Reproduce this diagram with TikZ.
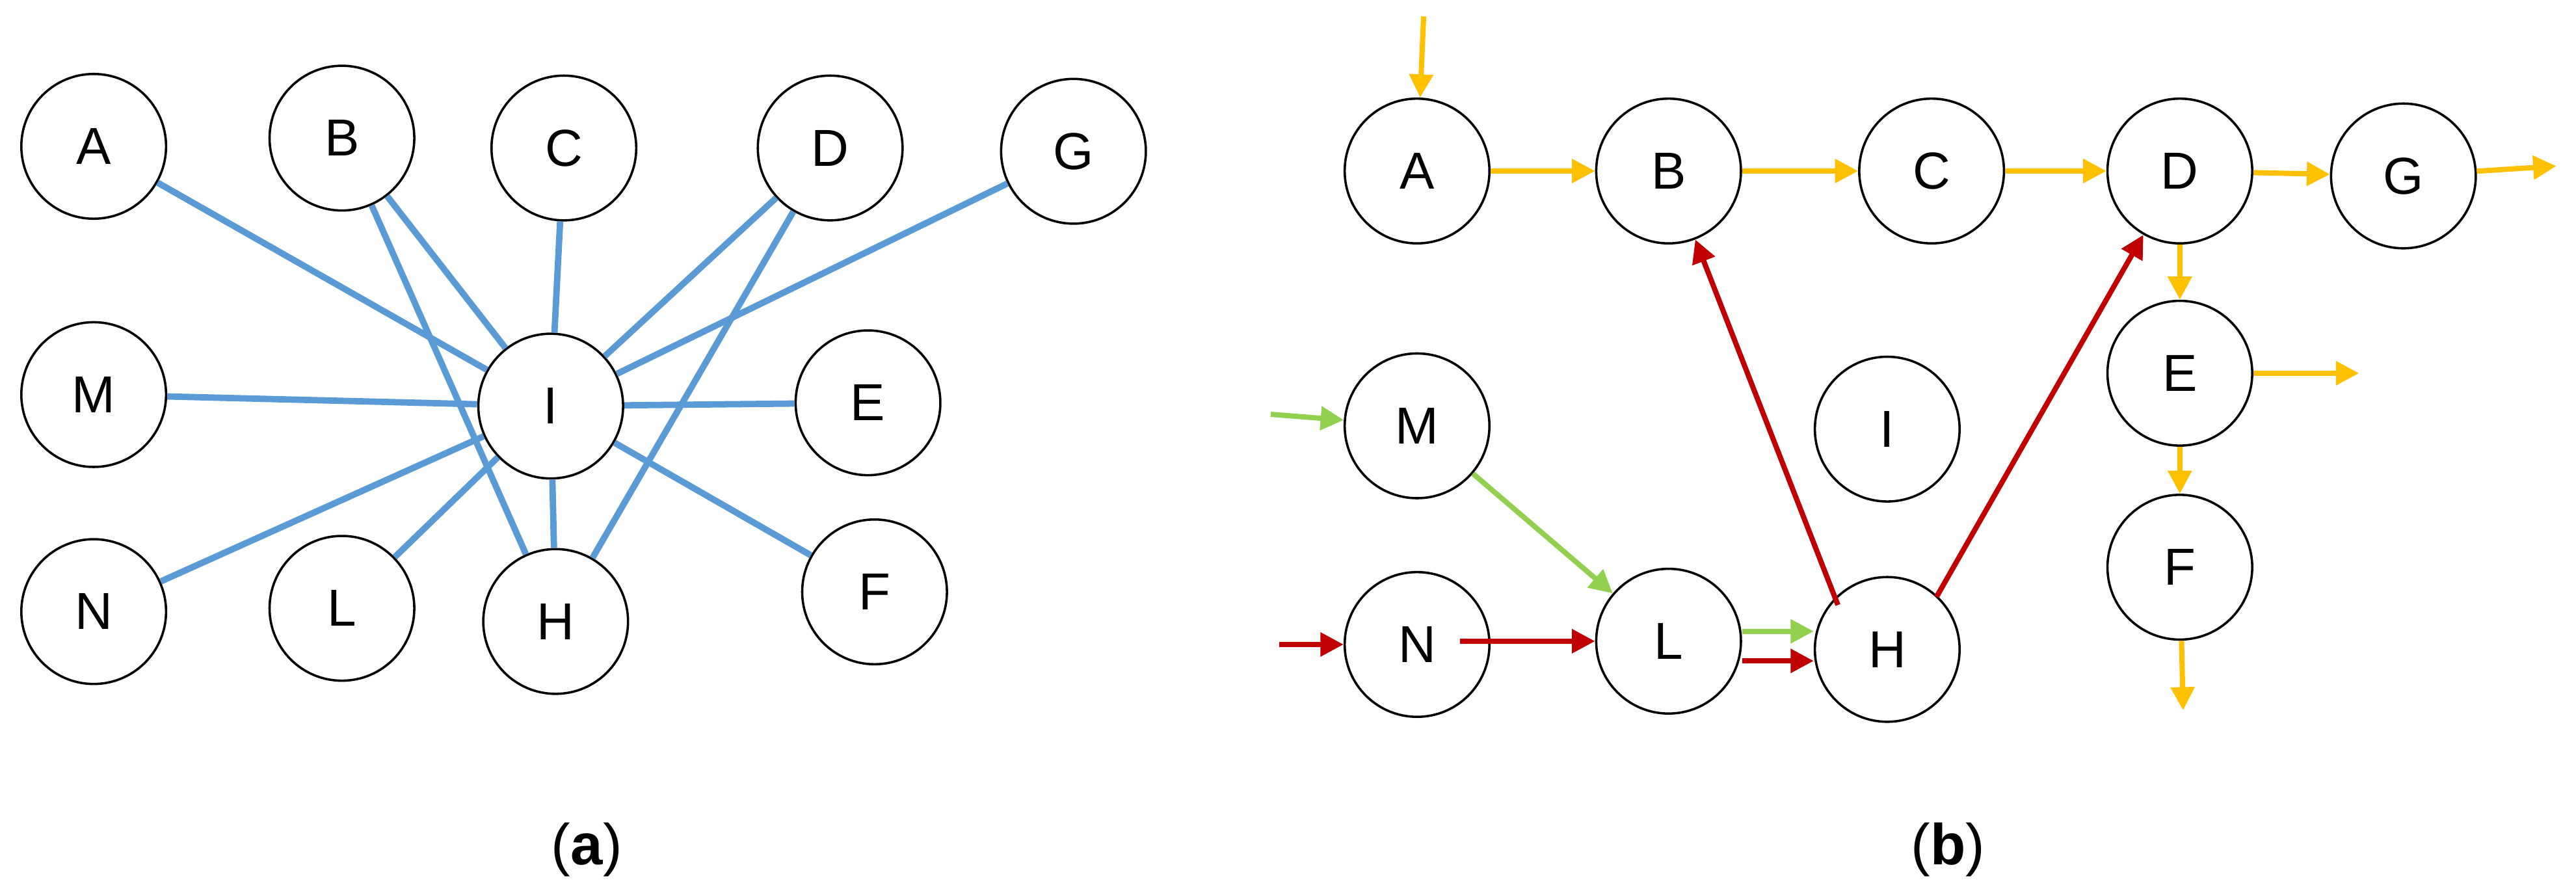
\documentclass[tikz,border=0pt]{standalone}
\usepackage{fontspec}
\setmainfont{Liberation Sans}
\usetikzlibrary{arrows.meta, positioning, calc}
\definecolor{edgeblue}{RGB}{91,155,213}
\definecolor{flowyellow}{RGB}{255,192,0}
\definecolor{flowgreen}{RGB}{146,208,80}
\definecolor{flowred}{RGB}{192,0,0}
\tikzset{
  vert/.style={circle, draw, thin, minimum size=0.88cm, inner sep=0pt, font=\fontsize{9}{9}\selectfont},
  link/.style={edgeblue, line width=1.1pt},
  flow/.style={line width=0.9pt, -{Triangle[length=4pt,width=4pt]}},
  sublabel/.style={font=\fontsize{10}{10}\selectfont}
}
\begin{document}
\begin{tikzpicture}[x=0.01cm, y=-0.01cm]
    \useasboundingbox (0,0) rectangle (1567,541.6);

    % (a) undirected graph
    \node[vert] (a-A) at (57,89) {A};
    \node[vert] (a-B) at (208,84) {B};
    \node[vert] (a-C) at (343,90) {C};
    \node[vert] (a-D) at (505,90) {D};
    \node[vert] (a-G) at (653,92) {G};
    \node[vert] (a-M) at (57,240) {M};
    \node[vert] (a-I) at (335,247) {I};
    \node[vert] (a-E) at (528,245) {E};
    \node[vert] (a-N) at (57,372) {N};
    \node[vert] (a-L) at (208,370) {L};
    \node[vert] (a-H) at (338,378) {H};
    \node[vert] (a-F) at (532,360) {F};
    \foreach \v in {A,B,C,D,G,M,E,N,L,H,F}
        \draw[link] (a-\v) -- (a-I);
    \draw[link] (a-B) -- (a-H);
    \draw[link] (a-D) -- (a-H);
    \node[sublabel] (cap-a) at (357,517) {(\textbf{a})};

    % (b) directed flows
    \node[vert] (b-A) at (862,104) {A};
    \node[vert] (b-B) at (1015,104) {B};
    \node[vert] (b-C) at (1175,104) {C};
    \node[vert] (b-D) at (1326,104) {D};
    \node[vert] (b-G) at (1462,107) {G};
    \node[vert] (b-E) at (1326,227) {E};
    \node[vert] (b-F) at (1326,345) {F};
    \node[vert] (b-M) at (862,259) {M};
    \node[vert] (b-I) at (1148,261) {I};
    \node[vert] (b-N) at (862,392) {N};
    \node[vert] (b-L) at (1015,390) {L};
    \node[vert] (b-H) at (1148,395) {H};
    \coordinate (inA) at (866,10);
    \coordinate (outG) at (1555,101);
    \coordinate (outE) at (1435,227);
    \coordinate (outF) at (1328,432);
    \coordinate (inM) at (773,252);
    \coordinate (inN) at (778,392);

    \draw[flow, flowyellow] (inA) -- (b-A);
    \draw[flow, flowyellow] (b-A) -- (b-B);
    \draw[flow, flowyellow] (b-B) -- (b-C);
    \draw[flow, flowyellow] (b-C) -- (b-D);
    \draw[flow, flowyellow] (b-D) -- (b-G);
    \draw[flow, flowyellow] (b-G) -- (outG);
    \draw[flow, flowyellow] (b-D) -- (b-E);
    \draw[flow, flowyellow] (b-E) -- (outE);
    \draw[flow, flowyellow] (b-E) -- (b-F);
    \draw[flow, flowyellow] (b-F) -- (outF);

    \draw[flow, flowgreen] (inM) -- (b-M);
    \draw[flow, flowgreen] (b-M) -- (b-L);
    \draw[flow, flowgreen] ($(b-L.east)+(0,-6)$) -- ($(b-H.west)+(0,-11)$);

    \draw[flow, flowred] (inN) -- (b-N);
    \draw[flow, flowred] ($(b-N)+(26,-2)$) -- (b-L);
    \draw[flow, flowred] ($(b-L.east)+(0,12)$) -- ($(b-H.west)+(0,7)$);
    \draw[flow, flowred] ($(b-H)+(-30,-27)$) -- (b-B);
    \draw[flow, flowred] ($(b-H)+(30,-32)$) -- (b-D);

    \node[sublabel] (cap-b) at (1185,517) {(\textbf{b})};
\end{tikzpicture}
\end{document}
